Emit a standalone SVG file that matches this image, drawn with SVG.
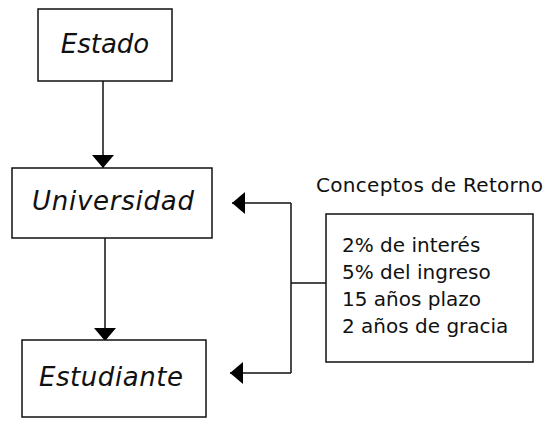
<svg xmlns="http://www.w3.org/2000/svg" width="550" height="430" viewBox="0 0 550 430">
<style>
.box{fill:#fff;stroke:#111;stroke-width:1.5}
.lbl{font-family:"DejaVu Sans",Verdana,sans-serif;font-style:italic;font-size:26px;fill:#111;text-anchor:middle}
.txt{font-family:"DejaVu Sans",Verdana,sans-serif;font-size:20px;fill:#111}
.con{fill:none;stroke:#111;stroke-width:1.5}
</style>
<defs>
<marker id="ah" viewBox="0 0 13 22" refX="13" refY="11" markerWidth="13" markerHeight="22" markerUnits="userSpaceOnUse" orient="auto">
<path d="M0,0 L13,11 L0,22 z" fill="#000"/>
</marker>
</defs>
<rect width="550" height="430" fill="#fff"/>
<g id="connectors">
<path class="con" d="M103,81 V168" marker-end="url(#ah)"/>
<path class="con" d="M105,238 V341" marker-end="url(#ah)"/>
<path class="con" d="M291,203 V373"/>
<path class="con" d="M291,203 H232" marker-end="url(#ah)"/>
<path class="con" d="M291,373 H230" marker-end="url(#ah)"/>
<path class="con" d="M291,283 H326"/>
</g>
<g id="estado">
<rect class="box" x="38" y="9" width="134" height="72"/>
<text class="lbl" x="105" y="53">Estado</text>
</g>
<g id="universidad">
<rect class="box" x="12" y="168" width="200" height="70"/>
<text class="lbl" x="113" y="210" textLength="162">Universidad</text>
</g>
<g id="estudiante">
<rect class="box" x="22" y="340" width="184" height="77"/>
<text class="lbl" x="111" y="386" textLength="144">Estudiante</text>
</g>
<g id="conceptos">
<text class="txt" x="316" y="192" textLength="227">Conceptos de Retorno</text>
<rect class="box" x="326" y="214" width="207" height="148"/>
<text class="txt" x="342" y="252">2% de interés</text>
<text class="txt" x="342" y="279">5% del ingreso</text>
<text class="txt" x="342" y="306">15 años plazo</text>
<text class="txt" x="342" y="333">2 años de gracia</text>
</g>
</svg>
